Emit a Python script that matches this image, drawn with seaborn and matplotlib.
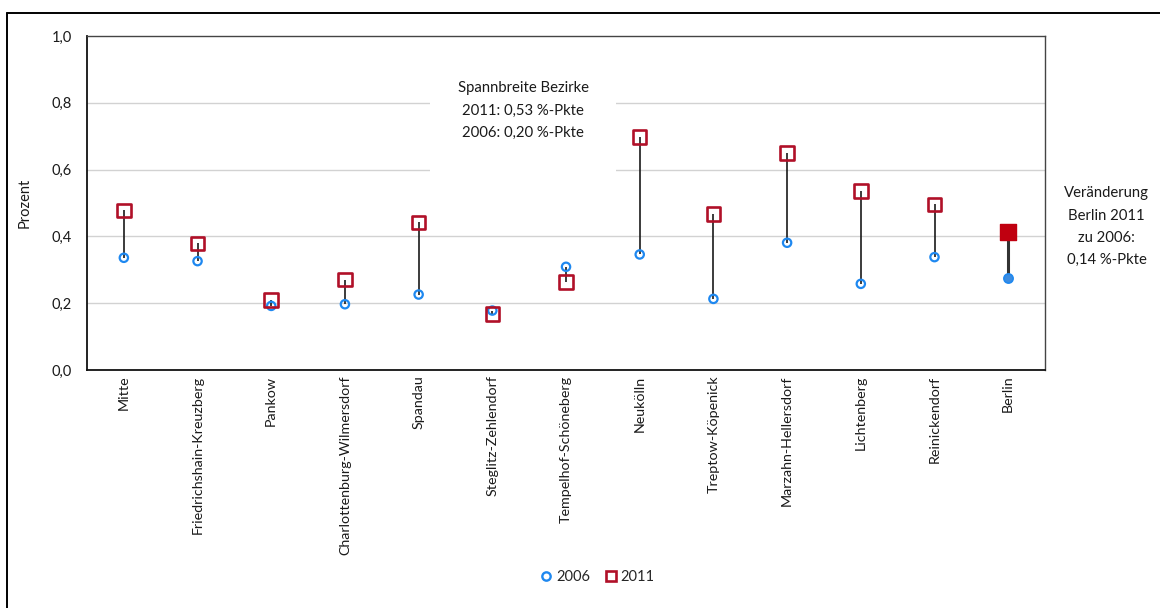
import matplotlib
matplotlib.use("Agg")
import matplotlib.pyplot as plt
from matplotlib.lines import Line2D
from matplotlib.patches import Rectangle
import seaborn as sns
import pandas as pd
import numpy as np

# Anteil in Prozent je Bezirk
bezirke = [
    "Mitte", "Friedrichshain-Kreuzberg", "Pankow", "Charlottenburg-Wilmersdorf",
    "Spandau", "Steglitz-Zehlendorf", "Tempelhof-Schöneberg", "Neukölln",
    "Treptow-Köpenick", "Marzahn-Hellersdorf", "Lichtenberg", "Reinickendorf", "Berlin",
]
werte_2006 = [0.336, 0.326, 0.192, 0.197, 0.226, 0.178, 0.309, 0.346,
              0.213, 0.381, 0.258, 0.338, 0.276]
werte_2011 = [0.478, 0.379, 0.210, 0.271, 0.442, 0.168, 0.264, 0.698,
              0.467, 0.650, 0.536, 0.496, 0.413]
y_ticks = [0.0, 0.2, 0.4, 0.6, 0.8, 1.0]
y_ticklabels = ["0,0", "0,2", "0,4", "0,6", "0,8", "1,0"]

spann_text = "Spannbreite Bezirke\n2011: 0,53 %-Pkte\n2006: 0,20 %-Pkte"
berlin_text = "Veränderung\nBerlin 2011\nzu 2006:\n0,14 %-Pkte"

BLUE = "#1E88F0"
RED = "#B01028"
RED_FILL = "#C00010"
BLUE_FILL = "#3C8CE0"

sns.set_theme(style="white")
plt.rcParams["font.family"] = ["Lato", "DejaVu Sans"]
plt.rcParams["font.size"] = 10

df = pd.DataFrame({"Bezirk": bezirke, "2006": werte_2006, "2011": werte_2011})
df["pos"] = np.arange(len(df))
is_berlin = df["Bezirk"] == "Berlin"
bez = df[~is_berlin]
ber = df[is_berlin]

fig = plt.figure(figsize=(11.6, 6.08), dpi=100)
ax = fig.add_axes([0.075, 0.3914, 0.8259, 0.5494])

# grid
for yv in y_ticks[1:-1]:
    ax.axhline(yv, color="#D2D2D2", lw=1.0, zorder=0.5)

# white panel behind the range note
ax.add_patch(Rectangle((4.15, 0.585), 2.53, 0.245, facecolor="white",
                       edgecolor="none", zorder=1))
ax.text(5.42, 0.777, spann_text, ha="center", va="center",
        fontsize=10.7, linespacing=1.75, color="#1a1a1a", zorder=2)

# connectors
ax.vlines(bez["pos"], bez["2006"], bez["2011"], color="#1a1a1a", lw=1.2, zorder=2)
ax.vlines(ber["pos"], ber["2006"], ber["2011"], color="#333333", lw=2.2, zorder=2)

# districts
sns.scatterplot(x=bez["pos"], y=bez["2006"], ax=ax, marker="o", s=36,
                facecolor="none", edgecolor=BLUE, linewidth=1.6, zorder=3)
sns.scatterplot(x=bez["pos"], y=bez["2011"], ax=ax, marker="s", s=95,
                facecolor="none", edgecolor=RED, linewidth=1.9, zorder=3)
# Berlin total
sns.scatterplot(x=ber["pos"], y=ber["2006"], ax=ax, marker="o", s=44,
                color=BLUE_FILL, edgecolor=BLUE, linewidth=1.2, zorder=3)
sns.scatterplot(x=ber["pos"], y=ber["2011"], ax=ax, marker="s", s=135,
                color=RED_FILL, edgecolor=RED_FILL, linewidth=1.0, zorder=3)

ax.set_xlim(-0.5, len(bezirke) - 0.5)
ax.set_ylim(0, 1.0)
ax.set_yticks(y_ticks)
ax.set_yticklabels(y_ticklabels)
ax.set_xticks(df["pos"])
ax.set_xticklabels(bezirke, rotation=90, va="top", ha="center")
ax.set_xticks(np.arange(-0.5, len(bezirke) + 0.5, 1), minor=True)
ax.tick_params(axis="x", which="major", length=0, pad=4, labelsize=10.3, colors="#1a1a1a")
ax.tick_params(axis="x", which="minor", length=5, width=1, color="#1a1a1a", direction="out")
ax.tick_params(axis="y", length=5, width=1, color="#1a1a1a", direction="out",
               labelsize=10.5, labelcolor="#1a1a1a", pad=6)
ax.set_xlabel("")
ax.set_ylabel("Prozent", fontsize=10.5, color="#1a1a1a", labelpad=14)

for side in ["left", "bottom"]:
    ax.spines[side].set_color("#111111")
    ax.spines[side].set_linewidth(1.3)
for side in ["top", "right"]:
    ax.spines[side].set_color("#444444")
    ax.spines[side].set_linewidth(1.0)
ax.spines["top"].set_visible(True)
ax.spines["right"].set_visible(True)

# note on the right
fig.text(0.954, 0.627, berlin_text, ha="center", va="center", fontsize=10.7,
         linespacing=1.75, color="#1a1a1a")

# legend
handles = [
    Line2D([], [], marker="o", ls="none", markersize=6.0, markerfacecolor="none",
           markeredgecolor=BLUE, markeredgewidth=1.7, label="2006"),
    Line2D([], [], marker="s", ls="none", markersize=7.0, markerfacecolor="none",
           markeredgecolor=RED, markeredgewidth=1.9, label="2011"),
]
fig.legend(handles=handles, loc="center", bbox_to_anchor=(0.515, 0.051), ncol=2,
           frameon=False, fontsize=10.5, handlelength=0.8, handletextpad=0.3,
           columnspacing=1.0)

# outer frame (open at right and bottom)
fx = 7 / 1160
fy = 1 - 13 / 608
fig.add_artist(Line2D([fx, fx], [0, fy], transform=fig.transFigure, color="black", lw=1.4))
fig.add_artist(Line2D([fx, 1], [fy, fy], transform=fig.transFigure, color="black", lw=1.4))

fig.savefig("out.png", dpi=100, facecolor="white")
